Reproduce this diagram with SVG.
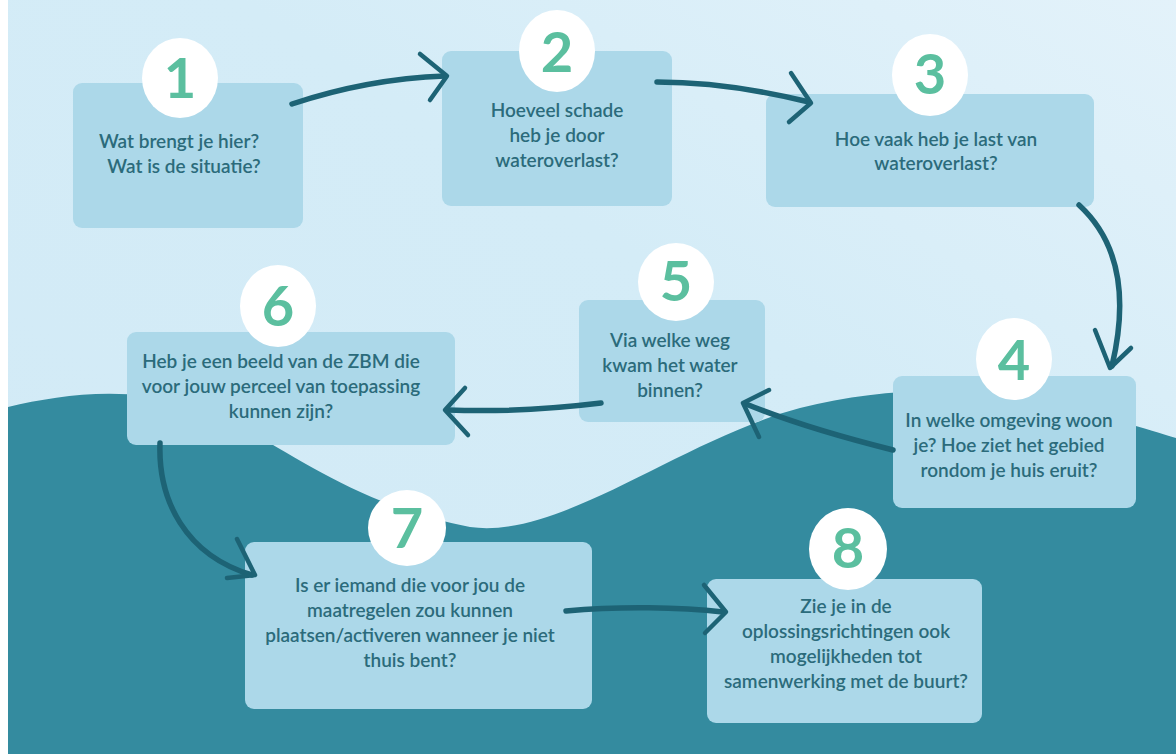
<svg xmlns="http://www.w3.org/2000/svg" width="1176" height="754" viewBox="0 0 1176 754">
<defs>
<linearGradient id="sky" x1="0" y1="1" x2="1" y2="0">
<stop offset="0" stop-color="#D2EAF6"/>
<stop offset="0.6" stop-color="#D4ECF7"/>
<stop offset="1" stop-color="#E3F2FA"/>
</linearGradient>
<style>
.box{fill:#ACD8E9}
.circ{fill:#FFFFFF}
.num{font-family:Lato,"Liberation Sans",sans-serif;font-size:56px;font-weight:bold;fill:#5BBF9F;text-anchor:middle}
.txt{font-family:Lato,"Liberation Sans",sans-serif;font-size:19px;font-weight:600;fill:#2B6B7B;text-anchor:middle}
.arr{fill:none;stroke:#1D6375;stroke-width:5.5;stroke-linecap:round;stroke-linejoin:round}
.head{fill:none;stroke:#1D6375;stroke-width:4.5;stroke-linecap:round;stroke-linejoin:round}
</style>
</defs>
<rect x="0" y="0" width="1176" height="754" fill="#FFFFFF"/>
<rect x="8" y="0" width="1168" height="754" fill="url(#sky)"/>
<path d="M8,407 C60,395 120,386 190,404 C260,424 330,500 470,527 C560,540 680,440 800,408 C880,388 960,386 1030,400 C1100,414 1150,430 1176,438 L1176,754 L8,754 Z" fill="#348B9F"/>

<g id="node1">
<rect class="box" x="73" y="83" width="230" height="145" rx="9"/>
<ellipse class="circ" cx="180" cy="78" rx="38" ry="40"/>
<text class="num" x="180" y="98">1</text>
<text class="txt" x="179" y="148">Wat brengt je hier?</text>
<text class="txt" x="184" y="173">Wat is de situatie?</text>
</g>
<g id="node2">
<rect class="box" x="442" y="51" width="230" height="155" rx="9"/>
<ellipse class="circ" cx="557" cy="51" rx="38" ry="41"/>
<text class="num" x="557" y="72">2</text>
<text class="txt" x="557" y="117">Hoeveel schade</text>
<text class="txt" x="557" y="142">heb je door</text>
<text class="txt" x="557" y="167">wateroverlast?</text>
</g>
<g id="node3">
<rect class="box" x="766" y="94" width="328" height="113" rx="9"/>
<ellipse class="circ" cx="930" cy="75" rx="38" ry="41"/>
<text class="num" x="930" y="94">3</text>
<text class="txt" x="936" y="146">Hoe vaak heb je last van</text>
<text class="txt" x="936" y="170">wateroverlast?</text>
</g>
<g id="node4">
<rect class="box" x="893" y="376" width="243" height="132" rx="9"/>
<ellipse class="circ" cx="1014" cy="359" rx="38" ry="41"/>
<text class="num" x="1014" y="380">4</text>
<text class="txt" x="1009" y="427">In welke omgeving woon</text>
<text class="txt" x="1009" y="452">je? Hoe ziet het gebied</text>
<text class="txt" x="1009" y="477">rondom je huis eruit?</text>
</g>
<g id="node5">
<rect class="box" x="579" y="300" width="186" height="122" rx="9"/>
<ellipse class="circ" cx="676" cy="282" rx="38" ry="39"/>
<text class="num" x="676" y="301">5</text>
<text class="txt" x="670" y="347">Via welke weg</text>
<text class="txt" x="670" y="372">kwam het water</text>
<text class="txt" x="670" y="397">binnen?</text>
</g>
<g id="node6">
<rect class="box" x="127" y="332" width="328" height="113" rx="9"/>
<ellipse class="circ" cx="278" cy="306" rx="38" ry="41"/>
<text class="num" x="278" y="326">6</text>
<text class="txt" x="281" y="368">Heb je een beeld van de ZBM die</text>
<text class="txt" x="281" y="393">voor jouw perceel van toepassing</text>
<text class="txt" x="281" y="418">kunnen zijn?</text>
</g>
<g id="node7">
<rect class="box" x="245" y="542" width="347" height="167" rx="9"/>
<ellipse class="circ" cx="407" cy="528" rx="39" ry="38"/>
<text class="num" x="407" y="548">7</text>
<text class="txt" x="410" y="592">Is er iemand die voor jou de</text>
<text class="txt" x="410" y="617">maatregelen zou kunnen</text>
<text class="txt" x="410" y="642">plaatsen/activeren wanneer je niet</text>
<text class="txt" x="410" y="667">thuis bent?</text>
</g>
<g id="node8">
<rect class="box" x="707" y="579" width="275" height="144" rx="9"/>
<ellipse class="circ" cx="848" cy="549" rx="39" ry="41"/>
<text class="num" x="848" y="568">8</text>
<text class="txt" x="846" y="613">Zie je in de</text>
<text class="txt" x="846" y="638">oplossingsrichtingen ook</text>
<text class="txt" x="846" y="663">mogelijkheden tot</text>
<text class="txt" x="846" y="688">samenwerking met de buurt?</text>
</g>

<g id="connectors">
<g id="c12"><path class="arr" d="M292,104 C340,88 390,78 445,76"/><path class="head" d="M420,54 L447,76 L430,100"/></g>
<g id="c23"><path class="arr" d="M657,82 C710,82 760,90 809,102"/><path class="head" d="M791,73 L811,103 L789,122"/></g>
<g id="c34"><path class="arr" d="M1079,205 C1115,238 1130,290 1112,366"/><path class="head" d="M1095,330 L1110,368 L1131,348"/></g>
<g id="c45"><path class="arr" d="M893,450 C845,438 790,422 746,404"/><path class="head" d="M769,390 L743,403 L759,437"/></g>
<g id="c56"><path class="arr" d="M601,403 C560,408 500,412 448,410"/><path class="head" d="M465,388 L445,410 L468,435"/></g>
<g id="c67"><path class="arr" d="M160,443 C158,500 185,555 252,575"/><path class="head" d="M237,539 L255,575 L227,578"/></g>
<g id="c78"><path class="arr" d="M566,611 C620,606 680,607 723,612"/><path class="head" d="M704,585 L726,612 L705,633"/></g>
</g>
</svg>
